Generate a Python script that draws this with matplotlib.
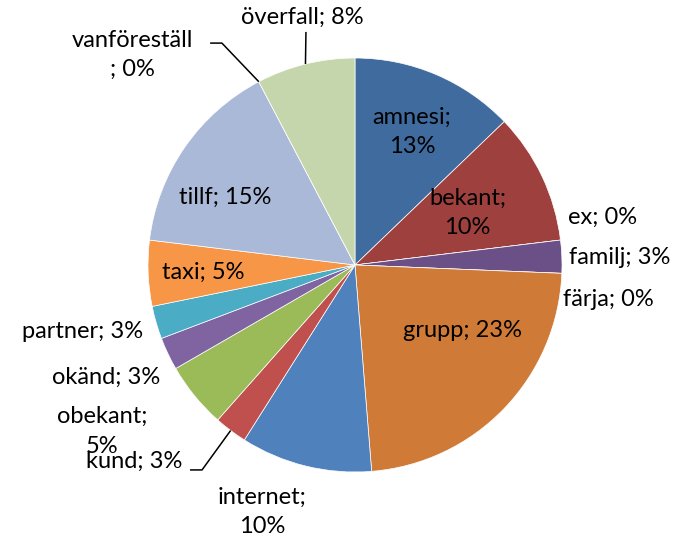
import matplotlib
matplotlib.use("Agg")
import matplotlib.pyplot as plt
import numpy as np

plt.rcParams['font.family'] = ['Lato', 'DejaVu Sans']

# data (counts per category, clockwise from 12 o'clock)
names = ['amnesi', 'bekant', 'ex', 'familj', 'färja', 'grupp', 'internet', 'kund',
         'obekant', 'okänd', 'partner', 'taxi', 'tillf', 'vanföreställ', 'överfall']
counts = [5, 4, 0, 1, 0, 9, 4, 1, 2, 1, 1, 2, 6, 0, 3]

colors = ['#3F6B9F', '#9E413E', '#7F9A48', '#6A5087', '#3C8DA3', '#CF7B37',
          '#4F81BD', '#C0504D', '#9BBB59', '#8064A2', '#4BACC6', '#F79646',
          '#AAB9D7', '#D7AAA9', '#C6D6AC']

# label placement: (radius, angle offset from wedge middle, ha, line break)
label_style = {
    'amnesi': (0.70, 0, 'center', True),
    'bekant': (0.60, -0.5, 'center', True),
    'ex': (1.055, 5.8, 'left', False),
    'familj': (1.035, -0.4, 'left', False),
    'färja': (1.018, -7, 'left', False),
    'grupp': (0.61, 12.4, 'center', False),
    'internet': (1.275, -6.8, 'center', True),
    'kund': (1.26, -4.4, 'right', False),
    'obekant': (1.462, -5.9, 'center', True),
    'okänd': (1.086, 4.5, 'right', False),
    'partner': (1.073, 1.2, 'right', False),
    'taxi': (0.735, 0.4, 'center', False),
    'tillf': (0.709, 7, 'center', False),
    'vanföreställ': (1.479, 19, 'center', 'pre'),
    'överfall': (1.225, -1.75, 'center', False),
}
# leader lines: points after the wedge edge
leaders = {
    'kund': [(-0.739, -0.990), (-0.797, -0.990)],
    'vanföreställ': [(-0.643, 1.072), (-0.700, 1.072)],
    'överfall': [(-0.237, 1.126)],
}

fig = plt.figure(figsize=(6.86, 5.40), dpi=100)
ax = fig.add_axes([0, 0, 1, 1])

wedges, _ = ax.pie(counts, colors=colors, startangle=90, counterclock=False,
                   radius=1, wedgeprops=dict(edgecolor='white', linewidth=0.5))

total = sum(counts)
for w, name, c in zip(wedges, names, counts):
    mid = (w.theta1 + w.theta2) / 2
    r, dth, ha, wrap = label_style[name]
    a = np.deg2rad(mid + dth)
    x, y = r * np.cos(a), r * np.sin(a)
    pct = round(c / total * 100)
    if wrap == 'pre':
        txt = f"{name}\n; {pct}%"
    elif wrap:
        txt = f"{name};\n{pct}%"
    else:
        txt = f"{name}; {pct}%"
    ax.text(x, y, txt, ha=ha, va='center', fontsize=17, color='black',
            linespacing=1.5)
    if name in leaders:
        am = np.deg2rad(mid)
        pts = [(np.cos(am), np.sin(am))] + leaders[name]
        xs, ys = zip(*pts)
        ax.plot(xs, ys, color='black', lw=1.1, solid_capstyle='butt')

ax.set_xlim(-355 / 207, (686 - 355) / 207)
ax.set_ylim(-(540 - 265) / 207, 265 / 207)
ax.set_aspect('auto')
ax.axis('off')

fig.savefig('out.png', dpi=100)
